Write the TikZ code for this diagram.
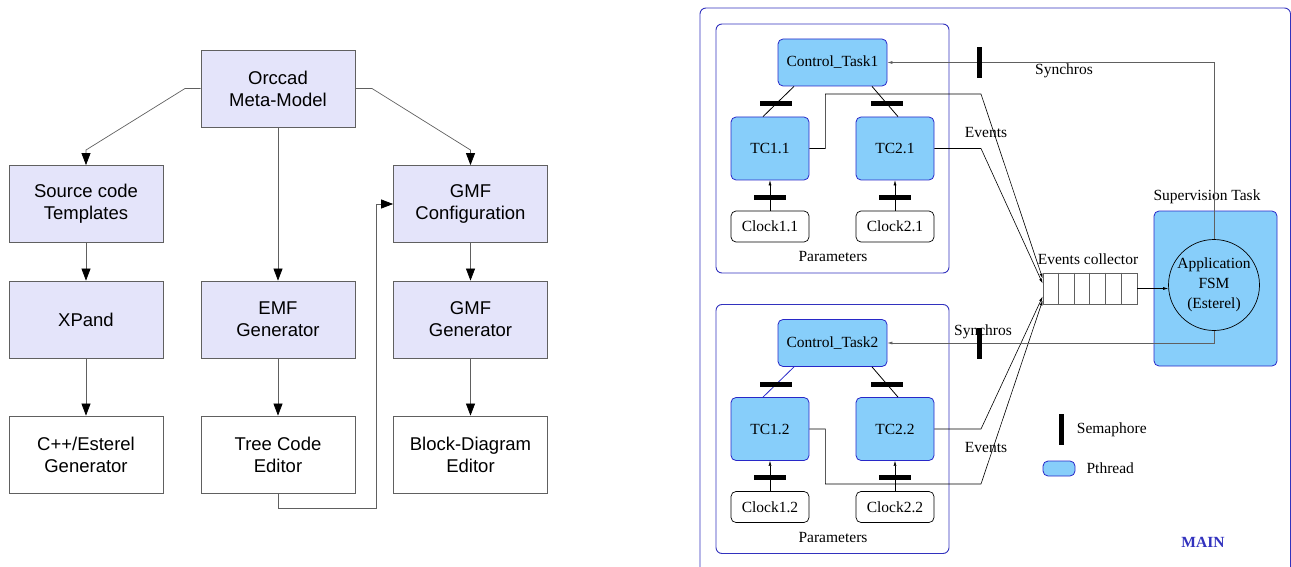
\documentclass[tikz,border=0pt]{standalone}
\usepackage{fontspec}
\setmainfont{Liberation Serif}
\setsansfont{Liberation Sans}
\usetikzlibrary{positioning}
\usetikzlibrary{calc}
\usetikzlibrary{arrows.meta}
\definecolor{lavbox}{RGB}{228,228,250}
\definecolor{boxline}{RGB}{96,96,96}
\definecolor{pthread}{RGB}{135,206,250}
\definecolor{pthline}{RGB}{40,40,200}
\definecolor{mainblue}{RGB}{50,50,190}
\newcommand*{\boxW}{154pt}
\newcommand*{\boxH}{77pt}
\newcommand*{\grpDy}{280.5}
\tikzset{
  flowbox/.style={% left tool chain boxes
    draw=boxline, fill=lavbox, line width=0.8pt,
    minimum width=\boxW, minimum height=\boxH,
    align=center, inner sep=0pt,
    font=\sffamily\fontsize{18.5}{22}\selectfont
  },
  toolbox/.style={flowbox, fill=white},
  flowarrow/.style={draw=boxline, line width=0.7pt,
    -{Triangle[length=12pt,width=9pt,color=black]}},
  rtext/.style={font=\fontsize{15.5}{20}\selectfont, inner sep=0pt},
  pthbox/.style={% threads
    rtext, draw=pthline, fill=pthread, rounded corners=5pt, line width=0.8pt
  },
  clockbox/.style={rtext, draw=black, fill=white, rounded corners=5pt,
    line width=0.7pt, minimum width=78pt, minimum height=31pt},
  grpbox/.style={draw=mainblue, rounded corners=6pt, line width=0.9pt},
  semah/.style={fill=black, inner sep=0pt, minimum width=32pt, minimum height=5pt},
  semav/.style={fill=black, inner sep=0pt, minimum width=5pt, minimum height=31pt},
  sarrow/.style={line width=0.6pt, -{Latex[length=5pt,width=3pt]}}
}

\begin{document}
\begin{tikzpicture}[x=1pt,y=-1pt]
    \useasboundingbox (0,0) rectangle (1291,567);
    % left: tool chain
    \node[flowbox] (orccad) at (278,88.5) {Orccad\\Meta-Model};
    \node[flowbox] (src) at (86,204) {Source code\\Templates};
    \node[flowbox] (gmfc) at (470.5,204) {GMF\\Configuration};
    \node[flowbox] (xpand) at (86,319.5) {XPand};
    \node[flowbox] (emf) at (278,319.5) {EMF\\Generator};
    \node[flowbox] (gmfg) at (470.5,319.5) {GMF\\Generator};
    \node[toolbox] (cpp) at (86,454.5) {C++/Esterel\\Generator};
    \node[toolbox] (tree) at (278,454.5) {Tree Code\\Editor};
    \node[toolbox] (block) at (470.5,454.5) {Block-Diagram\\Editor};
    \coordinate (kl) at (185,88.5);
    \coordinate (kr) at (372,88.5);
    \coordinate (ret) at (376,508);
    \draw[flowarrow] (orccad.west) -- (kl) -- (86,150) -- (src.north);
    \draw[flowarrow] (orccad.east) -- (kr) -- (470.5,150) -- (gmfc.north);
    \draw[flowarrow] (orccad) -- (emf);
    \draw[flowarrow] (src) -- (xpand);
    \draw[flowarrow] (xpand) -- (cpp);
    \draw[flowarrow] (emf) -- (tree);
    \draw[flowarrow] (gmfc) -- (gmfg);
    \draw[flowarrow] (gmfg) -- (block);
    \draw[flowarrow] (tree.south) |- (ret) |- (gmfc.west);
    % right: MAIN
    \draw[grpbox] (700,8) rectangle (1290.5,620);
    \foreach \i/\dy/\lc in {1/0/black, 2/\grpDy/pthline} {
        \node[grpbox, minimum width=233pt, minimum height=249pt] (grp\i) at (832.5,148.5+\dy) {};
        \node[pthbox, minimum width=109pt, minimum height=47pt] (ct\i) at (832.5,62.5+\dy) {Control\_Task\i};
        \node[pthbox, minimum width=78pt, minimum height=63pt] (tc1\i) at (770,148.5+\dy) {TC1.\i};
        \node[pthbox, minimum width=78pt, minimum height=63pt] (tc2\i) at (895,148.5+\dy) {TC2.\i};
        \node[clockbox] (ck1\i) at (770,226.5+\dy) {Clock1.\i};
        \node[clockbox] (ck2\i) at (895,226.5+\dy) {Clock2.\i};
        \node[rtext] (par\i) at (833,257+\dy) {Parameters};
        \draw[line width=0.8pt, draw=\lc] ($(ct\i.south)+(-38.5,0)$) -- ($(tc1\i.north)+(-7,0)$) node[semah, pos=0.58] {};
        \draw[line width=0.8pt] ($(ct\i.south)+(39.5,0)$) -- ($(tc2\i.north)+(3,0)$) node[semah, pos=0.58] {};
        \draw[sarrow, line width=0.4pt] (ck1\i) -- (tc1\i) node[semah, pos=0.45] {};
        \draw[sarrow, line width=0.4pt] (ck2\i) -- (tc2\i) node[semah, pos=0.45] {};
    }
    % supervision
    \node[pthbox, minimum width=123pt, minimum height=155pt] (sup) at (1215.5,288.5) {};
    \node[rtext] (suplbl) at (1207,197) {Supervision Task};
    \node[circle, draw=black, fill=pthread, line width=0.7pt, minimum size=91pt,
        rtext, align=center] (fsm) at (1214,285) {Application\\FSM\\(Esterel)};
    \node[draw=boxline, line width=0.7pt, minimum width=94pt, minimum height=31pt, inner sep=0pt] (ecol) at (1090,288.5) {};
    \foreach \k in {1,...,5} {
        \draw[draw=boxline, line width=0.7pt] ($(ecol.north west)+(\k*15.67,0)$) -- ($(ecol.south west)+(\k*15.67,0)$);
    }
    \node[rtext] (ecollbl) at (1088,259) {Events collector};
    \draw[sarrow] (ecol.east) -- (ecol.east -| fsm.west);
    % events
    \coordinate (ev11) at (981,94);
    \coordinate (ev21) at (981,148.5);
    \coordinate (ev22) at (981,429);
    \coordinate (ev12) at (981,484);
    \draw[sarrow] (tc11.east) -- ++(16,0) |- (ev11) -- ($(ecol.west)+(0,-10)$);
    \draw[sarrow] (tc21.east) -- (ev21) -- ($(ecol.west)+(0,-5)$);
    \draw[sarrow] (tc22.east) -- (ev22) -- ($(ecol.west)+(0,8)$);
    \draw[sarrow] (tc12.east) -- ++(16,0) |- (ev12) -- ($(ecol.west)+(0,12)$);
    \node[rtext] (evlbl1) at (986,133) {Events};
    \node[rtext] (evlbl2) at (986,447) {Events};
    % synchros
    \draw[sarrow, draw=boxline] (fsm.north) |- (ct1.east);
    \draw[sarrow, draw=boxline] (fsm.south) |- (ct2.east);
    \node[rtext] (sylbl1) at (1064,71) {Synchros};
    \node[rtext] (sylbl2) at (983,332) {Synchros};
    \node[semav] (sem1) at (979,62.5) {};
    \node[semav] (sem2) at (979,343.5) {};
    % legend
    \node[semav] (lgsem) at (1061,429.5) {};
    \node[rtext, right=13pt of lgsem] (lgsemlbl) {Semaphore};
    \node[pthbox, minimum width=32pt, minimum height=15pt] (lgpth) at (1059,468.5) {};
    \node[rtext, right=11pt of lgpth] (lgpthlbl) {Pthread};
    \node[rtext, text=mainblue, font=\fontsize{15.5}{20}\selectfont\bfseries] (mainlbl) at (1203,542) {MAIN};
\end{tikzpicture}
\end{document}
